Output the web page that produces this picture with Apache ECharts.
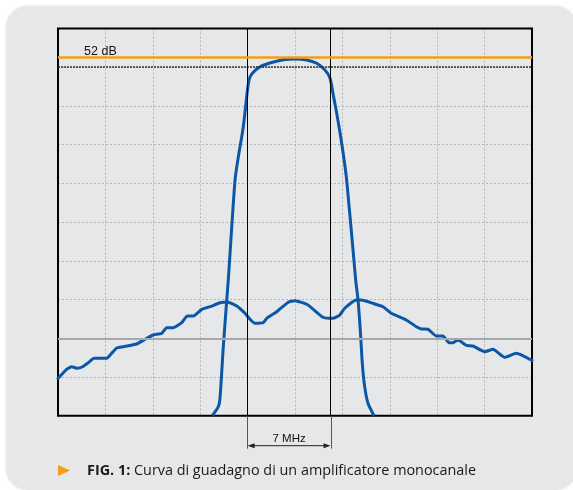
<!DOCTYPE html>
<html>
<head>
<meta charset="utf-8">
<script src="https://cdn.jsdelivr.net/npm/echarts@6/dist/echarts.min.js"></script>
<style>
  html, body { margin: 0; padding: 0; background: #ffffff; }
  #chart { width: 573px; height: 490px; }
</style>
</head>
<body>
<div id="chart"></div>
<script>
// Channel amplifier response (MHz, dB)
const bandFreq = [13.02, 13.53, 13.67, 13.95, 14.24, 14.37, 14.94, 15.22, 15.64, 15.99, 16.20, 16.62, 17.19, 18.03, 18.90, 20.00, 20.97, 21.83, 22.53, 22.95, 23.23, 23.52, 23.94, 24.36, 25.12, 25.32, 25.51, 25.68, 25.88, 26.16, 26.67];
const bandGain = [15.0, 15.93, 16.80, 22.13, 26.95, 29.02, 39.35, 41.76, 44.86, 48.65, 49.99, 50.64, 51.13, 51.49, 51.75, 51.85, 51.75, 51.41, 50.71, 49.89, 48.13, 46.24, 43.14, 39.35, 29.02, 26.95, 23.85, 20.41, 18.00, 16.28, 15.0];

// Wideband response seen across the whole sweep
const wideFreq = [0.0, 0.73, 1.16, 1.63, 2.08, 2.56, 3.04, 4.11, 4.53, 4.95, 5.51, 6.64, 7.49, 8.04, 8.75, 9.17, 9.73, 10.44, 10.91, 11.42, 12.13, 12.83, 13.67, 14.29, 15.08, 15.78, 16.20, 16.62, 17.32, 17.61, 18.46, 19.43, 20.00, 21.10, 22.36, 23.21, 23.77, 24.19, 25.17, 25.60, 26.58, 27.43, 28.13, 29.39, 30.24, 30.66, 31.22, 31.92, 32.49, 33.00, 33.33, 33.76, 34.46, 35.02, 36.01, 36.71, 37.70, 38.68, 40.0];
const wideGain = [18.85, 19.79, 20.06, 19.90, 20.06, 20.48, 20.93, 20.93, 21.45, 22.0, 22.13, 22.41, 23.0, 23.34, 23.51, 24.09, 24.09, 24.61, 25.30, 25.30, 25.99, 26.26, 26.67, 26.75, 26.33, 25.58, 24.96, 24.55, 24.61, 25.06, 25.74, 26.72, 26.88, 26.44, 25.17, 25.06, 25.40, 26.10, 26.95, 26.95, 26.61, 26.26, 25.58, 24.89, 24.19, 23.96, 23.93, 23.23, 23.23, 22.54, 22.54, 22.82, 22.27, 22.20, 21.61, 21.86, 21.03, 21.45, 20.7];

// Reference levels (dB) and channel edges (MHz)
const maxGainDb = 52;
const refLevelDb = 51;
const floorLevelDb = 23;
const channelEdges = [16, 23];
const channelWidthLabel = '7 MHz';
const captionTitle = 'FIG. 1:';
const captionText = ' Curva di guadagno di un amplificatore monocanale';

const zip = (xs, ys) => xs.map((x, i) => [x, ys[i]]);

const chart = echarts.init(document.getElementById('chart'), null, { renderer: 'canvas' });

const BLUE = '#0b56a6';
const ORANGE = '#f59d1c';
const gridDots = { color: '#b4b4b4', width: 1, type: [2, 2] };

chart.setOption({
  backgroundColor: '#ffffff',
  animation: false,
  grid: {
    left: 58, top: 28.5, width: 474, height: 387.2,
    show: true, borderColor: '#000', borderWidth: 2, backgroundColor: 'transparent', z: 2
  },
  xAxis: {
    type: 'value', min: 0, max: 40, interval: 4,
    axisLine: { show: false }, axisTick: { show: false }, axisLabel: { show: false },
    splitLine: { show: true, lineStyle: gridDots }
  },
  yAxis: [
    {
      type: 'value', min: 15, max: 55,
      axisLine: { show: false }, axisTick: { show: false }, axisLabel: { show: false },
      splitLine: { show: false }
    },
    {
      // screen divisions
      type: 'value', min: 0, max: 10, interval: 1, position: 'left',
      axisLine: { show: false }, axisTick: { show: false }, axisLabel: { show: false },
      splitLine: { show: true, lineStyle: gridDots }
    }
  ],
  series: [
    {
      type: 'line', yAxisIndex: 0, data: [], z: 1, silent: true,
      markLine: {
        silent: true, symbol: 'none', animation: false,
        label: { show: false },
        data: [
          { yAxis: floorLevelDb, lineStyle: { color: '#a8a8a8', width: 2, type: 'solid' } },
          { yAxis: refLevelDb, lineStyle: { color: '#333', width: 1.5, type: [2, 1] } },
          { xAxis: channelEdges[0], lineStyle: { color: '#000', width: 1, type: 'solid' } },
          { xAxis: channelEdges[1], lineStyle: { color: '#000', width: 1, type: 'solid' } }
        ]
      }
    },
    {
      name: 'wide', type: 'line', yAxisIndex: 0, z: 3,
      data: zip(wideFreq, wideGain), showSymbol: false, smooth: 0.15,
      lineStyle: { color: BLUE, width: 3, join: 'round', cap: 'round' }
    },
    {
      name: 'band', type: 'line', yAxisIndex: 0, z: 4,
      data: zip(bandFreq, bandGain), showSymbol: false, smooth: 0.25,
      lineStyle: { color: BLUE, width: 3, join: 'round', cap: 'butt' }
    },
    {
      type: 'line', yAxisIndex: 0, data: [], z: 5, silent: true,
      markLine: {
        silent: true, symbol: 'none', animation: false,
        label: { show: false },
        data: [{ yAxis: maxGainDb, lineStyle: { color: ORANGE, width: 2.5, type: 'solid' } }]
      }
    }
  ]
});

// Annotations placed with the chart's own scales
const px = (x, y) => chart.convertToPixel({ seriesIndex: 1 }, [x, y]);
const [xL] = px(channelEdges[0], maxGainDb);
const [xR] = px(channelEdges[1], maxGainDb);
const [, yMax] = px(0, maxGainDb);
const [xLabel] = px(2.2, maxGainDb);
const plotBottom = px(0, 15)[1];
const arrowY = plotBottom + 30;
const midX = (xL + xR) / 2;

chart.setOption({
  graphic: [
    {
      type: 'rect', z: -10, silent: true,
      shape: { x: 6, y: 6, width: 571, height: 484, r: 22 },
      style: { fill: '#e6e7e9', shadowBlur: 3, shadowColor: 'rgba(0,0,0,0.12)' }
    },
    {
      type: 'text', z: 20, silent: true,
      style: {
        x: xLabel, y: yMax + 0.5, text: maxGainDb + ' dB', textVerticalAlign: 'bottom',
        font: '12.5px "Liberation Sans", Arial, sans-serif', fill: '#111'
      }
    },
    {
      type: 'line', z: 20, silent: true,
      shape: { x1: Math.round(xL) - 0.5, y1: plotBottom, x2: Math.round(xL) - 0.5, y2: arrowY + 3 },
      style: { stroke: '#555', lineWidth: 1 }
    },
    {
      type: 'line', z: 20, silent: true,
      shape: { x1: Math.round(xR) + 0.5, y1: plotBottom, x2: Math.round(xR) + 0.5, y2: arrowY + 3 },
      style: { stroke: '#555', lineWidth: 1 }
    },
    {
      type: 'line', z: 20, silent: true,
      shape: { x1: xL + 4, y1: arrowY, x2: xR - 4, y2: arrowY },
      style: { stroke: '#222', lineWidth: 1 }
    },
    {
      type: 'polygon', z: 20, silent: true,
      shape: { points: [[xL, arrowY], [xL + 7, arrowY - 2.5], [xL + 7, arrowY + 2.5]] },
      style: { fill: '#222' }
    },
    {
      type: 'polygon', z: 20, silent: true,
      shape: { points: [[xR, arrowY], [xR - 7, arrowY - 2.5], [xR - 7, arrowY + 2.5]] },
      style: { fill: '#222' }
    },
    {
      type: 'text', z: 20, silent: true,
      style: {
        x: midX, y: arrowY - 1, text: channelWidthLabel, textAlign: 'center', textVerticalAlign: 'bottom',
        font: '11.5px "Liberation Sans", Arial, sans-serif', fill: '#111'
      }
    },
    {
      type: 'polygon', z: 20, silent: true,
      shape: { points: [[58, 465], [58, 476], [70, 470.5]] },
      style: { fill: ORANGE }
    },
    {
      type: 'text', z: 20, silent: true,
      style: {
        x: 87, y: 471, textVerticalAlign: 'middle',
        text: '{b|' + captionTitle + '}{r|' + captionText + '}',
        rich: {
          b: { font: 'bold 14.4px "Open Sans", sans-serif', fill: '#1a1a1a' },
          r: { font: '14.4px "Open Sans", sans-serif', fill: '#1a1a1a' }
        }
      }
    }
  ]
});
</script>
</body>
</html>
